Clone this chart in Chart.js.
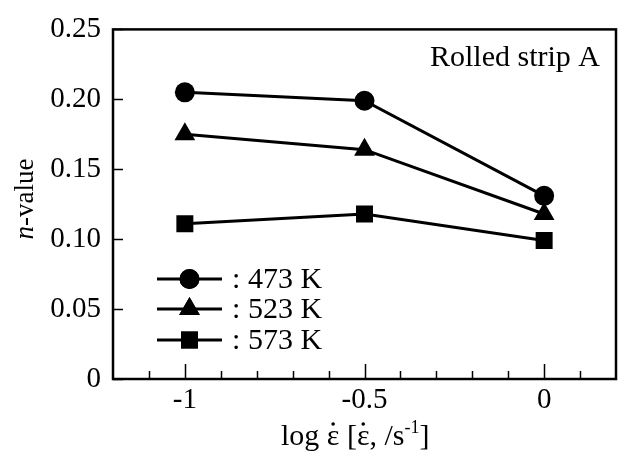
<!DOCTYPE html>
<html lang="en">
  <head>
    <meta charset="UTF-8" />
    <title>n-value vs strain rate</title>
    <script src="https://cdn.jsdelivr.net/npm/chart.js"></script>
    <style>
      * {
        margin: 0;
        padding: 0;
        box-sizing: border-box;
      }
      body {
        background: #ffffff;
      }
      .wrap {
        width: 622px;
        height: 454px;
      }
    </style>
  </head>
  <body>
    <div class="wrap"><canvas id="chart" width="622" height="454"></canvas></div>

    <script>
      // data
      const logRate = [-1, -0.5, 0];
      const n473 = [0.205, 0.199, 0.131];
      const n523 = [0.175, 0.164, 0.118];
      const n573 = [0.111, 0.118, 0.099];
      const seriesNames = [": 473 K", ": 523 K", ": 573 K"];
      const xTickLabels = [-1, -0.5, 0];
      const xMinorTicks = [-1.1, -1, -0.9, -0.8, -0.7, -0.6, -0.5, -0.4, -0.3, -0.2, -0.1, 0, 0.1];
      const yTickLabels = [0, 0.05, 0.1, 0.15, 0.2, 0.25];

      const FONT = "'Liberation Serif', 'DejaVu Serif', serif";
      const markers = [
        { style: "circle", r: 10 },
        { style: "triangle", r: 12 },
        { style: "rect", r: 12 },
      ];

      function toPoints(ys) {
        return logRate.map((x, i) => ({ x: x, y: ys[i] }));
      }

      const datasets = [n473, n523, n573].map((ys, i) => ({
        label: seriesNames[i],
        data: toPoints(ys),
        showLine: true,
        borderColor: "#000",
        backgroundColor: "#000",
        borderWidth: 3,
        pointStyle: markers[i].style,
        pointRadius: markers[i].r,
        pointHoverRadius: markers[i].r,
        pointBorderWidth: 0,
      }));

      // dotted epsilon: draws ε with a dot above, returns advance width
      function epsDot(ctx, x, y, font) {
        ctx.font = font;
        const w = ctx.measureText("\u03B5").width;
        ctx.fillText("\u03B5", x, y);
        ctx.beginPath();
        ctx.arc(x + w / 2, y - 21, 1.8, 0, Math.PI * 2);
        ctx.fill();
        return w;
      }

      // frame, inward ticks, legend, axis titles
      const decorations = {
        id: "decorations",
        afterDraw(chart) {
          const ctx = chart.ctx;
          const a = chart.chartArea;
          const xs = chart.scales.x;
          const ys = chart.scales.y;
          ctx.save();
          ctx.strokeStyle = "#000";
          ctx.fillStyle = "#000";
          ctx.lineWidth = 2.5;
          ctx.strokeRect(a.left, a.top, a.right - a.left, a.bottom - a.top);

          // x ticks, pointing up into the plot
          ctx.lineWidth = 1.5;
          xMinorTicks.forEach((v) => {
            const px = Math.round(xs.getPixelForValue(v)) + 0.5;
            const major = xTickLabels.some((t) => Math.abs(t - v) < 1e-9);
            ctx.beginPath();
            ctx.moveTo(px, a.bottom);
            ctx.lineTo(px, a.bottom - (major ? 15 : 8));
            ctx.stroke();
          });
          // y ticks, pointing right into the plot
          yTickLabels.forEach((v) => {
            const py = Math.round(ys.getPixelForValue(v)) + 0.5;
            ctx.beginPath();
            ctx.moveTo(a.left, py);
            ctx.lineTo(a.left + 10, py);
            ctx.stroke();
          });

          // legend
          const lx = 157, lw = 65;
          const rows = [279, 309, 340];
          rows.forEach((y, i) => {
            ctx.lineWidth = 3;
            ctx.beginPath();
            ctx.moveTo(lx, y);
            ctx.lineTo(lx + lw, y);
            ctx.stroke();
            Chart.helpers.drawPoint(ctx, {
              pointStyle: markers[i].style,
              radius: markers[i].r,
              borderWidth: 0,
              rotation: 0,
            }, lx + lw / 2, y);
            ctx.fill();
            ctx.font = "30px " + FONT;
            ctx.textBaseline = "middle";
            ctx.textAlign = "left";
            ctx.fillText(":", lx + lw + 10, y + 1);
            ctx.fillText(seriesNames[i].slice(2), lx + lw + 26, y + 1);
          });

          // annotation
          ctx.font = "30px " + FONT;
          ctx.textAlign = "right";
          ctx.textBaseline = "middle";
          ctx.fillText("Rolled strip A", a.right - 16, 58);

          // y title: italic n + "-value"
          ctx.save();
          ctx.translate(26, 199);
          ctx.rotate(-Math.PI / 2);
          ctx.textBaseline = "middle";
          ctx.textAlign = "left";
          ctx.font = "italic 27px " + FONT;
          const nW = ctx.measureText("n").width;
          ctx.font = "27px " + FONT;
          const restW = ctx.measureText("-value").width;
          const sx = -(nW + restW) / 2;
          ctx.font = "italic 27px " + FONT;
          ctx.fillText("n", sx, 0);
          ctx.font = "27px " + FONT;
          ctx.fillText("-value", sx + nW, 0);
          ctx.restore();

          // x title: log ε̇ [ε̇, /s^-1]
          const f = "30px " + FONT;
          const base = 445;
          ctx.textAlign = "left";
          ctx.textBaseline = "alphabetic";
          let cx = 281;
          ctx.font = f;
          ctx.fillText("log ", cx, base);
          cx += ctx.measureText("log ").width;
          cx += epsDot(ctx, cx, base, f);
          ctx.font = f;
          ctx.fillText(" [", cx, base);
          cx += ctx.measureText(" [").width;
          cx += epsDot(ctx, cx, base, f);
          ctx.font = f;
          ctx.fillText(", /s", cx, base);
          cx += ctx.measureText(", /s").width;
          ctx.font = "18px " + FONT;
          ctx.fillText("-1", cx, base - 12);
          cx += ctx.measureText("-1").width;
          ctx.font = f;
          ctx.fillText("]", cx, base);
          ctx.restore();
        },
      };

      new Chart(document.getElementById("chart"), {
        type: "scatter",
        data: { datasets: datasets },
        options: {
          responsive: false,
          animation: false,
          layout: {
            autoPadding: false,
            padding: { top: 22, right: 6, left: 0, bottom: 0 },
          },
          plugins: {
            legend: { display: false },
            tooltip: { enabled: false },
          },
          scales: {
            x: {
              type: "linear",
              min: -1.2,
              max: 0.2,
              grid: { display: false, drawTicks: false },
              border: { display: false },
              afterBuildTicks: (s) => {
                s.ticks = xTickLabels.map((v) => ({ value: v }));
              },
              afterFit: (s) => {
                s.height = 75;
              },
              ticks: {
                color: "#000",
                padding: 4,
                font: { family: FONT, size: 29 },
                callback: (v) => String(v),
                maxRotation: 0,
              },
            },
            y: {
              type: "linear",
              min: 0,
              max: 0.25,
              grid: { display: false, drawTicks: false },
              border: { display: false },
              afterBuildTicks: (s) => {
                s.ticks = yTickLabels.map((v) => ({ value: v }));
              },
              afterFit: (s) => {
                s.width = 113;
              },
              ticks: {
                color: "#000",
                padding: 12,
                font: { family: FONT, size: 29 },
                callback: (v) => (v === 0 ? "0" : v.toFixed(2)),
              },
            },
          },
        },
        plugins: [decorations],
      });
    </script>
  </body>
</html>
